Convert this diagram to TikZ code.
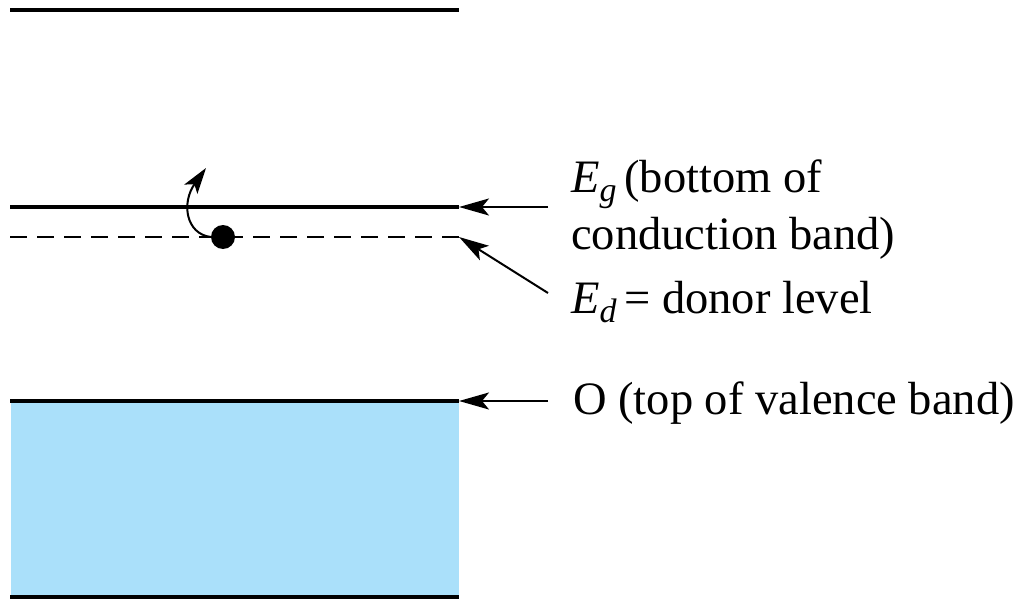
\documentclass[tikz,border=0pt]{standalone}
\usepackage{fontspec}
\setmainfont{Liberation Serif}
\usetikzlibrary{arrows.meta}
\definecolor{valence}{RGB}{170,224,250}
% italic subscript set in the text font
\newcommand{\lvsub}[1]{\raisebox{-0.2em}{\fontsize{34}{34}\selectfont\itshape #1}}
\begin{document}
\begin{tikzpicture}[x=1pt,y=-1pt,
  band/.style={line width=4pt},
  level/.style={line width=2pt, dash pattern=on 17pt off 10pt},
  pointer/.style={line width=2pt, -{Stealth[length=30pt,width=17pt,inset=7pt]}},
  hop/.style={line width=2pt, -{Stealth[length=26pt,width=16pt,inset=6pt]}},
  lbl/.style={anchor=base west, inner sep=0pt, font=\fontsize{46.5}{54}\selectfont}]
\useasboundingbox (0,0) rectangle (1020,599);

% valence band
\fill[valence] (11,401) rectangle (459,597);
\draw[band] (10,597) coordinate (vb0) -- (459,597) coordinate (vb1);
\draw[band] (10,401) coordinate (vt0) -- (459,401) coordinate (vt1);

% conduction band edges
\draw[band] (10,10) coordinate (ct0) -- (459,10) coordinate (ct1);
\draw[band] (10,207) coordinate (cb0) -- (459,207) coordinate (cb1);

% donor level
\draw[level] (10,237) coordinate (d0) -- (459,237) coordinate (d1);

% donor electron escaping into the conduction band
\node[circle, fill=black, inner sep=0pt, minimum size=24pt] (e) at (223,237) {};
\coordinate (esc) at (206,168);
\draw[hop] (e.west) .. controls (186,234) and (181,203) .. (esc);

% labels
\node[lbl] (lg1) at (571,192) {{\itshape E}\lvsub{g}\,(bottom of};
\node[lbl] (lg2) at (571,249) {conduction band)};
\node[lbl] (ld) at (571,313) {{\itshape E}\lvsub{d}\,= donor level};
\node[lbl] (lv) at (573,414) {O (top of valence band)};

% pointers
\coordinate (pg) at (548,207);
\coordinate (pd) at (548,293);
\coordinate (pv) at (548,401);
\draw[pointer] (pg) -- (cb1);
\draw[pointer] (pd) -- (d1);
\draw[pointer] (pv) -- (vt1);
\end{tikzpicture}
\end{document}
